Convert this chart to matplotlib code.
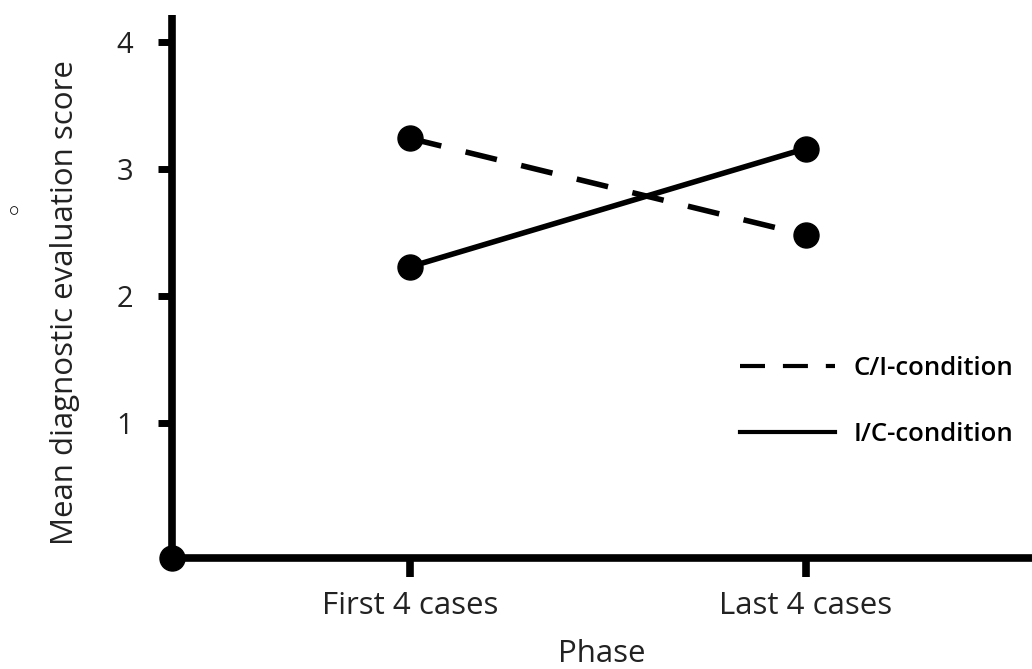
import matplotlib
matplotlib.use("Agg")
import matplotlib.pyplot as plt
from matplotlib.lines import Line2D

phases = ["First 4 cases", "Last 4 cases"]
ci_scores = [3.24, 2.48]   # C/I-condition (dashed)
ic_scores = [2.23, 3.16]   # I/C-condition (solid)
y_ticks = [1, 2, 3, 4]

plt.rcParams["font.family"] = ["Open Sans", "DejaVu Sans"]

fig = plt.figure(figsize=(10.32, 6.69), dpi=100)
ax = fig.add_axes([172 / 1032, 1 - 558 / 669, 1 - 172 / 1032, (558 - 15) / 669])

x = [1, 2]
dash = (0, (5.8, 4.5))
ax.plot(x, ci_scores, color="black", lw=4, linestyle=dash, dash_capstyle="butt",
        marker="o", markersize=18, label="C/I-condition", clip_on=False)
ax.plot(x, ic_scores, color="black", lw=4, linestyle="-",
        marker="o", markersize=18, label="I/C-condition", clip_on=False)

ax.set_xlim(0.399, 2.571)
ax.set_ylim(-0.06, 4.21)

for side in ["top", "right"]:
    ax.spines[side].set_visible(False)
for side in ["left", "bottom"]:
    ax.spines[side].set_linewidth(5.5)
    ax.spines[side].set_capstyle("butt")

# dot at the axes origin
ax.plot([0], [0], marker="o", markersize=18, color="black",
        transform=ax.transAxes, clip_on=False)

ax.set_xticks(x)
ax.set_xticklabels(phases)
ax.set_yticks(y_ticks)
ax.tick_params(axis="y", length=10, width=5, labelsize=21, pad=18, colors="black")
ax.tick_params(axis="x", length=14, width=5.5, labelsize=22.5, pad=10, colors="black")
for lbl in ax.get_xticklabels() + ax.get_yticklabels():
    lbl.set_color("#222222")

ax.set_ylabel("Mean diagnostic evaluation score", fontsize=22.5, color="#222222")
ax.yaxis.set_label_coords(-0.107, 0.47)
ax.set_xlabel("Phase", fontsize=22.5, labelpad=13, color="#222222")

handles = [
    Line2D([], [], color="black", lw=3, linestyle=(0, (6.0, 4.3))),
    Line2D([], [], color="black", lw=3, linestyle="-"),
]
leg = ax.legend(handles, ["C/I-condition", "I/C-condition"],
                loc="upper left", bbox_to_anchor=(0.633, 0.415),
                frameon=False, handlelength=3.7, handletextpad=0.75,
                labelspacing=1.6, prop={"size": 18.5, "weight": "semibold"})

fig.text(14 / 1032, 1 - 213 / 669, "\u25e6", fontsize=20, ha="center", va="center",
         family="DejaVu Sans")

fig.savefig("out.png", dpi=100)
